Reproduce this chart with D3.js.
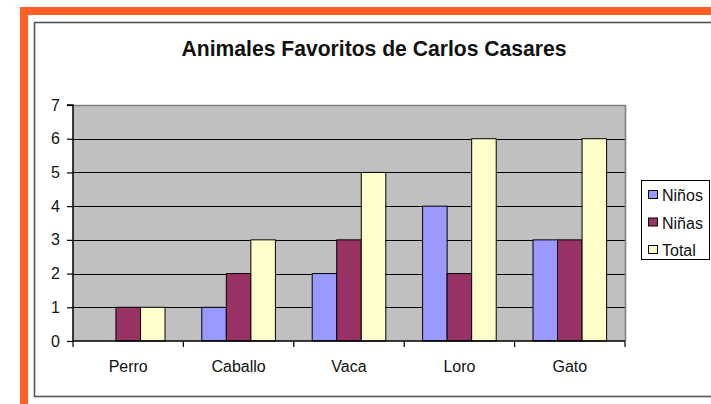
<!DOCTYPE html>
<html><head><meta charset="utf-8">
<script src="https://cdn.jsdelivr.net/npm/d3@7"></script>
<style>html,body{margin:0;padding:0;background:#fff;}svg{display:block;font-family:Arial,"Liberation Sans",sans-serif;}</style>
</head><body>
<script>
const categories = ["Perro", "Caballo", "Vaca", "Loro", "Gato"];
const ninos = [0, 1, 2, 4, 3];
const ninas = [1, 2, 3, 2, 3];
const total = [1, 3, 5, 6, 6];
const seriesNames = ["Niños", "Niñas", "Total"];
const seriesColors = ["#9999FF", "#993366", "#FFFFCC"];
const yTicks = [0, 1, 2, 3, 4, 5, 6, 7];
const title = "Animales Favoritos de Carlos Casares";

const W = 711, H = 404;
const svg = d3.select("body").append("svg").attr("width", W).attr("height", H);

// orange frame
svg.append("rect").attr("x", 20).attr("y", 7).attr("width", W - 20).attr("height", 8).attr("fill", "#FF5F22");
svg.append("rect").attr("x", 20).attr("y", 7).attr("width", 8).attr("height", H - 7).attr("fill", "#FF5F22");

// chart border
svg.append("rect").attr("x", 34.5).attr("y", 22.5).attr("width", W).attr("height", 374)
  .attr("fill", "#fff").attr("stroke", "#555").attr("stroke-width", 1.6);

// title
svg.append("text").attr("x", 374).attr("y", 56).attr("text-anchor", "middle")
  .attr("font-weight", "bold").attr("font-size", 22).attr("fill", "#111")
  .attr("textLength", 385).attr("lengthAdjust", "spacingAndGlyphs").text(title);

const plot = {x0: 73, x1: 625, y0: 105, y1: 341};
const x = d3.scaleBand().domain(categories).range([plot.x0, plot.x1]).paddingInner(0).paddingOuter(0);
const y = d3.scaleLinear().domain([0, 7]).range([plot.y1, plot.y0]);

// inner band: 3 bars + 1.5 bar-width gap
const barW = x.bandwidth() / 4.5;
const sub = d3.scaleBand().domain(seriesNames).range([barW * 0.75, barW * 3.75]);

const g = svg.append("g");
g.append("rect").attr("x", plot.x0).attr("y", plot.y0).attr("width", plot.x1 - plot.x0).attr("height", plot.y1 - plot.y0)
  .attr("fill", "#C0C0C0");

// gridlines
g.selectAll(".grid").data(yTicks.filter(d => d > 0 && d < 7)).enter().append("line")
  .attr("x1", plot.x0).attr("x2", plot.x1).attr("y1", d => Math.round(y(d)) + 0.5).attr("y2", d => Math.round(y(d)) + 0.5)
  .attr("stroke", "#000").attr("stroke-width", 1);

// plot border (top/right)
g.append("path").attr("d", `M${plot.x0},${plot.y0 + 0.5}H${plot.x1 + 0.5}V${plot.y1}`)
  .attr("fill", "none").attr("stroke", "#808080").attr("stroke-width", 1.6);

const seriesData = [ninos, ninas, total];
seriesData.forEach((vals, si) => {
  g.selectAll(".bar" + si).data(categories.map((c, i) => ({c, v: vals[i]})).filter(d => d.v > 0)).enter()
    .append("rect")
    .attr("x", d => x(d.c) + sub(seriesNames[si]))
    .attr("y", d => y(d.v))
    .attr("width", sub.bandwidth())
    .attr("height", d => y(0) - y(d.v))
    .attr("fill", seriesColors[si]).attr("stroke", "#000").attr("stroke-width", 1);
});

// axes
const yAxis = d3.axisLeft(y).tickValues(yTicks).tickSize(6).tickPadding(7).tickFormat(d3.format("d"));
const ya = svg.append("g").attr("transform", `translate(${plot.x0},0)`).call(yAxis);
ya.select(".domain").attr("stroke", "#000").attr("stroke-width", 1.5).attr("d", `M-6,${plot.y0}H0V${plot.y1}`);
ya.selectAll(".tick line").attr("stroke", "#000").attr("stroke-width", 1.2);
ya.selectAll("text").attr("font-size", 16).attr("fill", "#111").attr("font-family", "Arial, 'Liberation Sans', sans-serif");

const boundaries = categories.map(c => x(c)).concat([plot.x1]);
const xa = svg.append("g");
xa.append("line").attr("x1", plot.x0).attr("x2", plot.x1).attr("y1", plot.y1).attr("y2", plot.y1).attr("stroke", "#000").attr("stroke-width", 1.5);
xa.selectAll(".xt").data(boundaries).enter().append("line")
  .attr("x1", d => d).attr("x2", d => d).attr("y1", plot.y1).attr("y2", plot.y1 + 6).attr("stroke", "#000").attr("stroke-width", 1.2);
xa.selectAll(".xl").data(categories).enter().append("text")
  .attr("x", d => x(d) + x.bandwidth() / 2).attr("y", 372).attr("text-anchor", "middle")
  .attr("font-size", 16).attr("fill", "#111").text(d => d);

// legend
const leg = svg.append("g");
leg.append("rect").attr("x", 641.5).attr("y", 180.5).attr("width", 68).attr("height", 79)
  .attr("fill", "#fff").attr("stroke", "#000").attr("stroke-width", 1);
seriesNames.forEach((s, i) => {
  const cy = 195 + i * 27.5;
  leg.append("rect").attr("x", 648.5).attr("y", cy - 4.5).attr("width", 9).attr("height", 8)
    .attr("fill", seriesColors[i]).attr("stroke", "#000").attr("stroke-width", 1);
  leg.append("text").attr("x", 662).attr("y", cy + 6).attr("font-size", 16).attr("fill", "#111").text(s);
});
</script>
</body></html>
